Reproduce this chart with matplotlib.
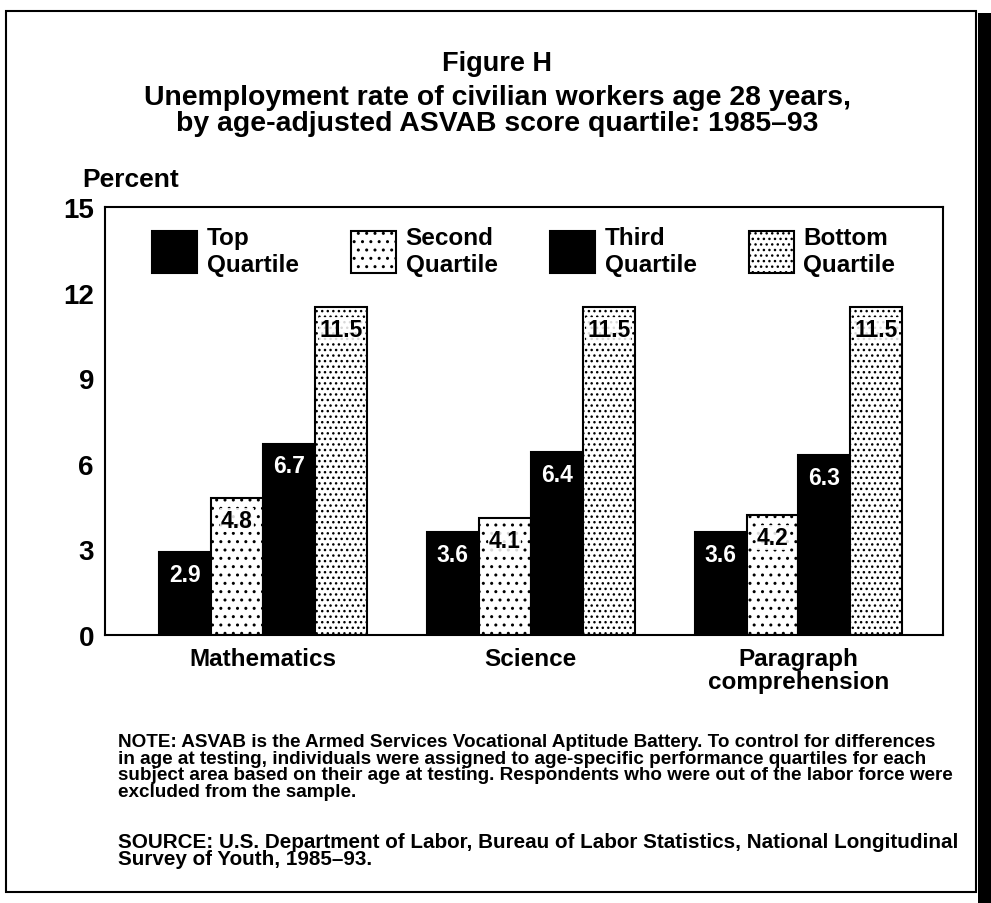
import numpy as np
import matplotlib
matplotlib.use('Agg')
import matplotlib.pyplot as plt
from matplotlib.patches import Rectangle

plt.rcParams['font.family'] = ['Liberation Sans', 'DejaVu Sans']
plt.rcParams['font.weight'] = 'bold'
plt.rcParams['hatch.linewidth'] = 1.0

subjects = ['Mathematics', 'Science', 'Paragraph\ncomprehension']
quartiles = ['Top\nQuartile', 'Second\nQuartile', 'Third\nQuartile', 'Bottom\nQuartile']
top_q = [2.9, 3.6, 3.6]
second_q = [4.8, 4.1, 4.2]
third_q = [6.7, 6.4, 6.3]
bottom_q = [11.5, 11.5, 11.5]
yticks = [0, 3, 6, 9, 12, 15]

series = [top_q, second_q, third_q, bottom_q]
faces = ['black', 'white', 'black', 'white']
hatches = [None, '..', None, '...']
txt_colors = ['white', 'black', 'white', 'black']

fig = plt.figure(figsize=(9.91, 9.04), dpi=100)
ax = fig.add_axes([0.106, 0.2965, 0.8456, 0.4735])

x = np.arange(len(subjects))
w = 0.194
for i, vals in enumerate(series):
    pos = x + (i - 1.5) * w
    bars = ax.bar(pos, vals, w, color=faces[i], edgecolor='black', linewidth=1.5,
                  hatch=hatches[i], label=quartiles[i], zorder=2)
    for b, v in zip(bars, vals):
        box = None
        if faces[i] == 'white':
            box = dict(facecolor='white', edgecolor='none', pad=0.5, alpha=0.85)
        ax.annotate(f'{v:.1f}', (b.get_x() + b.get_width() / 2, v),
                    xytext=(0, -16), textcoords='offset points',
                    ha='center', va='center', fontsize=16.5, fontweight='bold',
                    color=txt_colors[i], bbox=box, zorder=3)

ax.set_xlim(-0.59, 2.54)
ax.set_ylim(0, 15)
ax.set_yticks(yticks)
ax.set_yticklabels([str(t) for t in yticks], fontsize=20, fontweight='bold')
ax.tick_params(axis='y', length=0, pad=8)
ax.set_xticks(x)
ax.set_xticklabels(subjects, fontsize=17.5, fontweight='bold', linespacing=1.0)
ax.tick_params(axis='x', length=0, pad=9)
for s in ax.spines.values():
    s.set_linewidth(1.5)

ax.legend(loc='upper left', bbox_to_anchor=(0.056, 0.955), ncol=4, frameon=False,
          fontsize=17.5, handlelength=1.85, handleheight=2.28, handletextpad=0.4,
          columnspacing=2.15, borderaxespad=0, borderpad=0, labelspacing=0)

fig.text(0.083, 0.801, 'Percent', fontsize=19, fontweight='bold', ha='left', va='center')

fig.text(0.502, 0.929, 'Figure H', fontsize=19.5, fontweight='bold', ha='center', va='center')
fig.text(0.502, 0.877, 'Unemployment rate of civilian workers age 28 years,\n'
         'by age-adjusted ASVAB score quartile: 1985\u201393',
         fontsize=20.4, fontweight='bold', ha='center', va='center', linespacing=1.02)

note = ('NOTE: ASVAB is the Armed Services Vocational Aptitude Battery. To control for differences\n'
        'in age at testing, individuals were assigned to age-specific performance quartiles for each\n'
        'subject area based on their age at testing. Respondents who were out of the labor force were\n'
        'excluded from the sample.')
fig.text(0.119, 0.151, note, fontsize=13.6, fontweight='bold', ha='left', va='center', linespacing=0.97)
src = ('SOURCE: U.S. Department of Labor, Bureau of Labor Statistics, National Longitudinal\n'
       'Survey of Youth, 1985\u201393.')
fig.text(0.119, 0.059, src, fontsize=14.9, fontweight='bold', ha='left', va='center', linespacing=0.88)

# scanned page frame
fig.patches.append(Rectangle((6 / 991, 1 - 893 / 904), 970 / 991, 881 / 904,
                             transform=fig.transFigure, fill=False, edgecolor='black', linewidth=1.5))
fig.patches.append(Rectangle((978 / 991, 0), 13 / 991, 1 - 14 / 904,
                             transform=fig.transFigure, facecolor='black', edgecolor='none'))

fig.savefig('out.png', dpi=100)
